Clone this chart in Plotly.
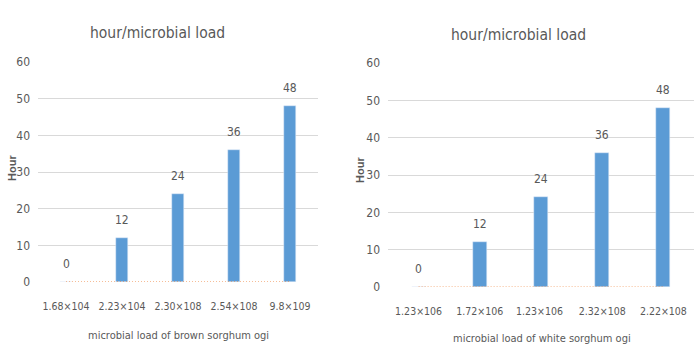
import plotly.graph_objects as go

# Data
brown_loads = ["1.68×104", "2.23×104", "2.30×108", "2.54×108", "9.8×109"]
white_loads = ["1.23×106", "1.72×106", "1.23×106 ", "2.32×108", "2.22×108"]
hours = [0, 12, 24, 36, 48]
zero_series = [0, 0, 0, 0, 0]

title_text = "hour/microbial load"
ytitle = "Hour"
xtitle_left = "microbial load of brown sorghum ogi"
xtitle_right = "microbial load of white sorghum ogi"

FONT = "DejaVu Sans Condensed, Liberation Sans Narrow, sans-serif"
GREY = "#595959"
BAR = "#5b9bd5"
ORANGE = "#ed7d31"
W, H = 700, 356

fig = go.Figure()

panels = [
    dict(cats=brown_loads, xa="x", ya="y", xdom=(38/W, 318/W), ydom=((H-282)/H, (H-62)/H), bw=0.22),
    dict(cats=white_loads, xa="x2", ya="y2", xdom=(388/W, 694/W), ydom=((H-287)/H, (H-63)/H), bw=0.23),
]

for p in panels:
    fig.add_trace(go.Bar(x=p["cats"], y=hours, marker_color=BAR, width=p["bw"],
                         xaxis=p["xa"], yaxis=p["ya"], showlegend=False))
    fig.add_trace(go.Scatter(x=p["cats"], y=zero_series, mode="lines",
                             line=dict(color=ORANGE, width=1.2, dash="1px,2px"),
                             xaxis=p["xa"], yaxis=p["ya"], showlegend=False))
    for c, v in zip(p["cats"], hours):
        fig.add_annotation(x=c, y=v, xref=p["xa"], yref=p["ya"], text=str(v),
                           showarrow=False, yanchor="bottom", yshift=9,
                           font=dict(family=FONT, size=12, color=GREY))

axis_common = dict(showline=False, zeroline=False, ticks="", automargin=False)

fig.update_layout(
    width=W, height=H, margin=dict(l=0, r=0, t=0, b=0, autoexpand=False),
    plot_bgcolor="white", paper_bgcolor="white",
    bargap=0,
    xaxis=dict(domain=panels[0]["xdom"], anchor="y", showgrid=False,
               ticklabelstandoff=16, tickfont=dict(family=FONT, size=10.5, color=GREY),
               **axis_common),
    yaxis=dict(domain=panels[0]["ydom"], anchor="x", range=[0, 60], dtick=10,
               showgrid=True, gridcolor="#d9d9d9", gridwidth=1, ticklabelstandoff=7,
               tickfont=dict(family=FONT, size=12, color=GREY), **axis_common),
    xaxis2=dict(domain=panels[1]["xdom"], anchor="y2", showgrid=False,
                ticklabelstandoff=16, tickfont=dict(family=FONT, size=10.5, color=GREY),
                **axis_common),
    yaxis2=dict(domain=panels[1]["ydom"], anchor="x2", range=[0, 60], dtick=10,
                showgrid=True, gridcolor="#d9d9d9", gridwidth=1, ticklabelstandoff=7,
                tickfont=dict(family=FONT, size=12, color=GREY), **axis_common),
)

def pa(text, x, y, size, angle=0, family=FONT):
    fig.add_annotation(x=x/W, y=1-y/H, xref="paper", yref="paper", text=text,
                       showarrow=False, xanchor="center", yanchor="middle", textangle=angle,
                       font=dict(family=family, size=size, color=GREY))

pa(title_text, 157, 33, 15.5)
pa(title_text, 518, 35, 15.5)
pa("<b>" + ytitle + "</b>", 12, 168, 11, angle=-90, family="Liberation Sans, Arial, sans-serif")
pa("<b>" + ytitle + "</b>", 360, 170, 11, angle=-90, family="Liberation Sans, Arial, sans-serif")
pa(xtitle_left, 178, 335, 11)
pa(xtitle_right, 542, 338, 11)

fig.write_html("out.html", config={"displayModeBar": False},
               post_script="document.body.style.margin='0';document.body.style.overflow='hidden';")
